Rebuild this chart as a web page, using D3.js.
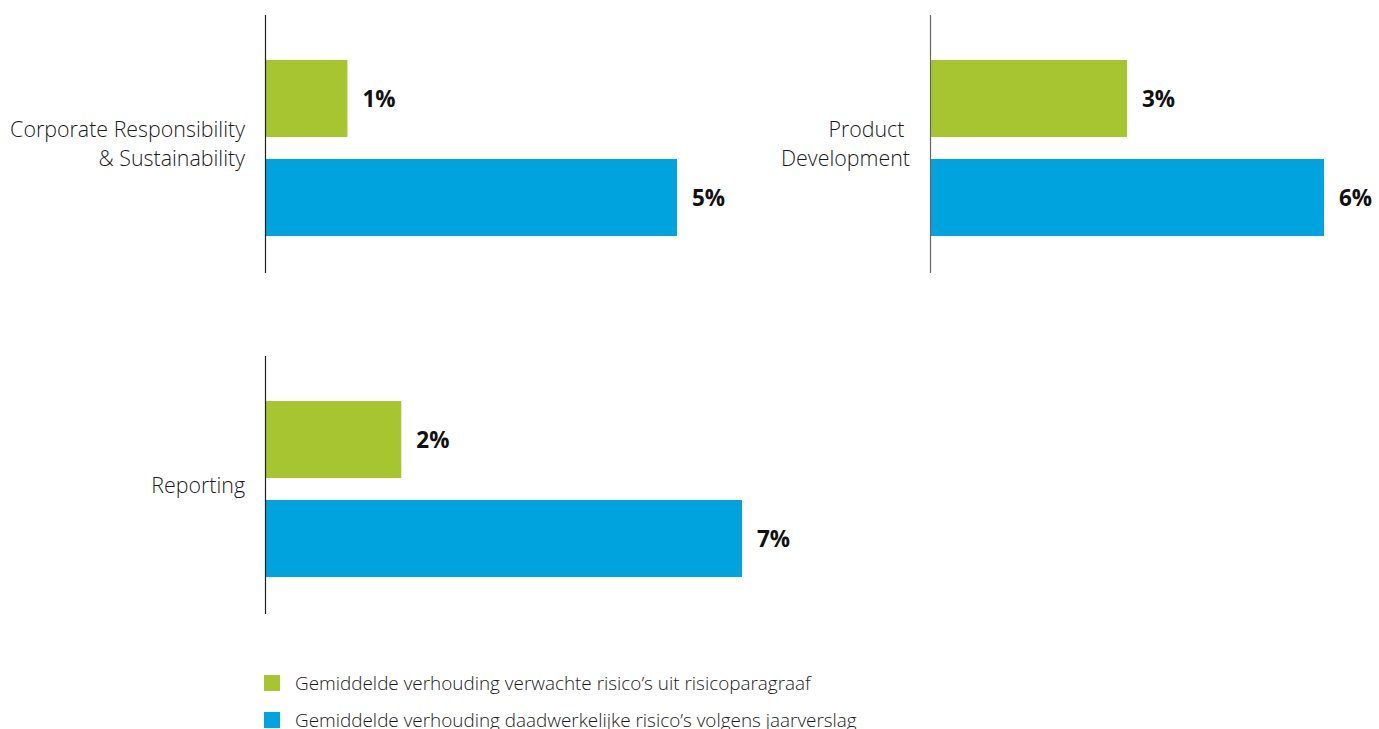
<!DOCTYPE html>
<html>
<head>
<meta charset="utf-8">
<script src="https://cdn.jsdelivr.net/npm/d3@7"></script>
<style>
  html, body { margin: 0; padding: 0; background: #fff; }
  svg { display: block; font-family: "Open Sans", "DejaVu Sans", sans-serif; }
</style>
</head>
<body>
<svg id="chart" width="1379" height="729"></svg>
<script>
// Data
const categories = ["Corporate Responsibility\n& Sustainability", "Product\u00a0\nDevelopment", "Reporting"];
const seriesNames = [
  "Gemiddelde verhouding verwachte risico\u2019s uit risicoparagraaf",
  "Gemiddelde verhouding daadwerkelijke risico\u2019s volgens jaarverslag"
];
const expectedValues = [1, 3, 2];   // verwachte risico's (%)
const actualValues = [5, 6, 7];     // daadwerkelijke risico's (%)
const seriesColors = ["#a6c530", "#00a3dd"];

// Panel layout: axis origin and the drawing length of each panel's value range
const panels = [
  { x: 265, y: 15, width: 412 },
  { x: 930, y: 15, width: 394 },
  { x: 265, y: 356, width: 477 }
];
const panelHeight = 258;

const svg = d3.select("#chart");

const y = d3.scaleBand()
  .domain([0, 1])
  .range([45, 221])
  .paddingInner(22 / 99)
  .paddingOuter(0);

categories.forEach((cat, i) => {
  const p = panels[i];
  const values = [expectedValues[i], actualValues[i]];
  const x = d3.scaleLinear()
    .domain([0, d3.max(values)])
    .range([0, p.width]);

  const g = svg.append("g").attr("transform", `translate(${p.x},${p.y})`);

  g.selectAll("rect.bar")
    .data(values)
    .join("rect")
    .attr("class", "bar")
    .attr("x", x(0))
    .attr("y", (d, j) => y(j))
    .attr("width", d => x(d) - x(0))
    .attr("height", y.bandwidth())
    .attr("fill", (d, j) => seriesColors[j]);

  g.selectAll("text.val")
    .data(values)
    .join("text")
    .attr("class", "val")
    .attr("x", d => x(d) + 15)
    .attr("y", (d, j) => y(j) + y.bandwidth() / 2)
    .attr("dy", "0.36em")
    .attr("font-size", 22.5)
    .attr("font-weight", 700)
    .attr("fill", "#111")
    .text(d => d + "%");

  // vertical baseline
  g.append("line")
    .attr("x1", 0.5).attr("x2", 0.5)
    .attr("y1", 0).attr("y2", panelHeight)
    .attr("stroke", i === 1 ? "#666" : "#222")
    .attr("stroke-width", 1.2);

  // category label
  const lines = cat.split("\n");
  const lh = 29;
  const label = g.append("text")
    .attr("x", -20)
    .attr("y", panelHeight / 2 - (lines.length - 1) * lh / 2)
    .attr("text-anchor", "end")
    .attr("font-size", 21.4)
    .attr("font-weight", 300)
    .attr("fill", "#1a1a1a")
    .style("white-space", "pre");
  lines.forEach((ln, k) => {
    label.append("tspan")
      .attr("x", -20)
      .attr("dy", k === 0 ? "0.36em" : lh)
      .text(ln);
  });
});

// Legend
const legend = svg.append("g").attr("transform", "translate(264,675)");
seriesNames.forEach((name, j) => {
  const row = legend.append("g").attr("transform", `translate(0,${j * 37})`);
  row.append("rect")
    .attr("width", 16).attr("height", 16)
    .attr("fill", seriesColors[j]);
  row.append("text")
    .attr("x", 31).attr("y", 8)
    .attr("dy", "0.36em")
    .attr("font-size", 18.9)
    .attr("font-weight", 300)
    .attr("fill", "#1a1a1a")
    .text(name);
});
</script>
</body>
</html>
